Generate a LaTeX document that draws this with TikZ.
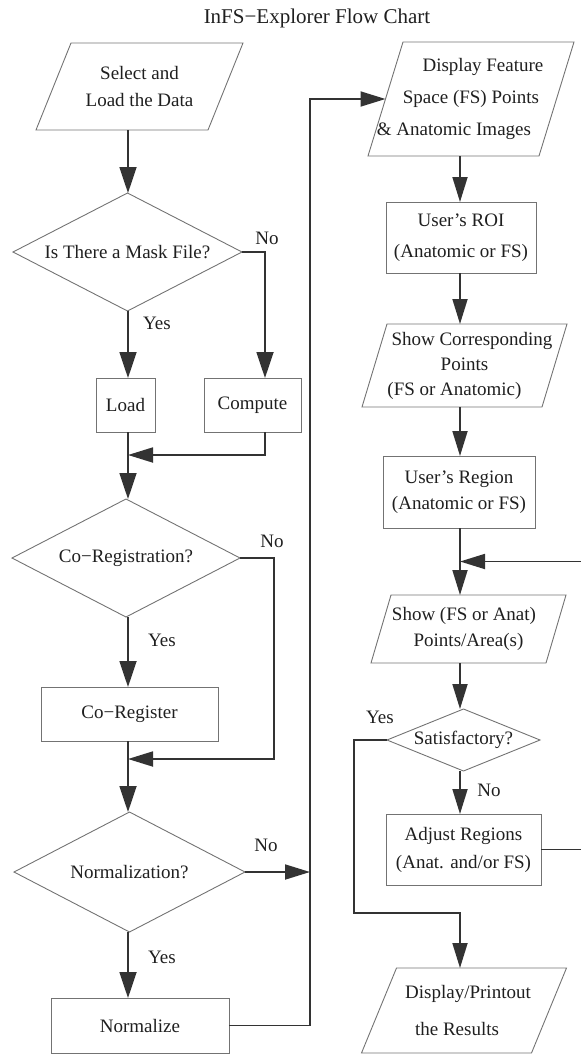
\documentclass[tikz,border=0pt]{standalone}
\usepackage{fontspec}
\setmainfont{Liberation Serif}
\usetikzlibrary{arrows.meta,shapes.geometric,calc}
\begin{document}
\begin{tikzpicture}[x=1pt,y=-1pt,
  every node/.style={font=\fontsize{19}{27}\selectfont, text=black!88, outer sep=0pt},
  box/.style={draw=black!55, line width=0.9pt, rectangle, inner sep=0pt, align=center},
  para/.style={rectangle, inner sep=0pt, align=center},
  dia/.style={draw=black!55, line width=0.9pt, diamond, inner sep=0pt},
  lbl/.style={inner sep=0pt},
  shapeline/.style={draw=black!55, line width=0.9pt, line join=miter},
  conn/.style={draw=black!80, line width=1.8pt},
  arr/.style={conn, -{Triangle[length=25pt,width=15pt]}},
  bigarr/.style={conn, -{Triangle[length=26pt,width=17pt]}}
]
\useasboundingbox (0,0) rectangle (581,1055);
\clip (0,0) rectangle (581,1055);
\coordinate (lc) at (128,0);
\coordinate (rc) at (460,0);

% title
\node[lbl, font=\fontsize{21}{25}\selectfont] (title) at (317,18) {InFS−Explorer Flow Chart};

% left column
\node[para, minimum width=172pt, minimum height=87pt] (sel) at (139.5,86.5) {Select and\\Load the Data};
\node[dia, aspect=1.94, minimum width=229pt, minimum height=118pt] (mask) at (127.5,252) {Is There a Mask File?};
\node[box, minimum width=59pt, minimum height=54pt] (load) at (125.5,405) {Load};
\node[box, minimum width=97pt, minimum height=54pt] (comp) at (252.5,405) {Compute};
\node[dia, aspect=1.93, minimum width=228pt, minimum height=118pt] (coreg) at (126,558) {Co−Registration?};
\node[box, minimum width=177pt, minimum height=54pt] (coregbox) at (129.5,714) {Co−Register};
\node[dia, aspect=1.93, minimum width=231pt, minimum height=120pt] (norm) at (129.5,872) {Normalization?};
\node[box, minimum width=178pt, minimum height=55pt] (normbox) at (140,1025.5) {Normalize};

% right column
\node[para, minimum width=171pt, minimum height=114pt, font=\fontsize{19}{32}\selectfont] (disp) at (471,99)
  {\makebox[0pt]{\hspace{24pt}Display Feature}\\Space (FS) Points\\\makebox[0pt]{\& Anatomic Images\hspace{34pt}}};
\node[box, minimum width=150pt, minimum height=71pt, font=\fontsize{19}{31}\selectfont] (roi) at (461,237.5) {User’s ROI\\(Anatomic or FS)};
\node[para, minimum width=180pt, minimum height=83pt, font=\fontsize{19}{25}\selectfont] (showc) at (464.5,365.5)
  {\makebox[0pt]{\hspace{15pt}Show Corresponding}\\Points\\\makebox[0pt]{(FS or Anatomic)\hspace{20pt}}};
\node[box, minimum width=152pt, minimum height=72pt, font=\fontsize{19}{26}\selectfont] (region) at (459,492) {User’s Region\\(Anatomic or FS)};
\node[para, minimum width=175pt, minimum height=68pt, font=\fontsize{19}{26}\selectfont] (showfs) at (468.5,629)
  {\makebox[0pt]{Show (FS or Anat)\hspace{9pt}}\\Points/Area(s)};
\node[dia, aspect=2.47, minimum width=153pt, minimum height=62pt] (sat) at (463.5,740) {Satisfactory?};
\node[box, minimum width=155pt, minimum height=71pt, font=\fontsize{19}{28}\selectfont] (adjust) at (463.5,849.5) {Adjust Regions\\(Anat. and/or FS)};
\node[para, minimum width=170pt, minimum height=85pt, font=\fontsize{19}{37}\selectfont] (final) at (464,1010.5)
  {\makebox[0pt]{\hspace{8pt}Display/Printout}\\\makebox[0pt]{the Results\hspace{14pt}}};

% parallelogram outlines
\foreach \n/\s in {sel/17.5, disp/17.5, showc/12.5, showfs/10, final/17.5}
  \draw[shapeline] ([xshift=\s pt]\n.north west) -- ([xshift=\s pt]\n.north east)
     -- ([xshift=-\s pt]\n.south east) -- ([xshift=-\s pt]\n.south west) -- cycle;

% labels
\node[lbl] (no1) at (267,238) {No};
\node[lbl] (yes1) at (157,323) {Yes};
\node[lbl] (no2) at (272,541) {No};
\node[lbl] (yes2) at (162,640) {Yes};
\node[lbl] (no3) at (266,845) {No};
\node[lbl] (yes3) at (162,957) {Yes};
\node[lbl] (yes4) at (380,717) {Yes};
\node[lbl] (no4) at (489,790) {No};

% helper coordinates
\coordinate (j1) at ($(comp.south)+(12.5,23)$);
\coordinate (j2) at ($(coregbox.south)+(144.5,18)$);
\coordinate (j3) at ($(normbox.east)+(81,0)$);
\coordinate (j5) at ($(adjust.south)+(-109.5,28)$);
\coordinate (j6) at ($(adjust.east)+(50,0)$);
\path (region.south -| rc) -- coordinate[pos=0.5] (j7) (showfs.north -| rc);

% left connectors
\draw[bigarr] (sel.south -| lc) -- (mask.north -| lc);
\draw[bigarr] (mask.east) -| ([xshift=12.5pt]comp.north);
\draw[bigarr] (mask.south -| lc) -- (load.north -| lc);
\draw[bigarr] (load.south -| lc) -- (coreg.north -| lc);
\draw[arr] ([xshift=12.5pt]comp.south) |- (j1 -| lc);
\draw[arr] (coreg.east) -- (coreg.east -| j2) -- (j2) -- (j2 -| lc);
\draw[bigarr] (coreg.south -| lc) -- (coregbox.north -| lc);
\draw[bigarr] (coregbox.south -| lc) -- (norm.north -| lc);
\draw[arr] (norm.east) -- (norm.east -| j3);
\draw[bigarr] (norm.south -| lc) -- (normbox.north -| lc);
\draw[arr] (normbox.east) -- (j3) |- (disp.west);

% right connectors
\draw[arr] (disp.south -| rc) -- (roi.north -| rc);
\draw[arr] (roi.south -| rc) -- (showc.north -| rc);
\draw[arr] (showc.south -| rc) -- (region.north -| rc);
\draw[arr] (region.south -| rc) -- (showfs.north -| rc);
\draw[arr] (showfs.south -| rc) -- (sat.north -| rc);
\draw[arr] (sat.south -| rc) -- (adjust.north -| rc);
\draw[arr] (sat.west) -| (j5) -- (j5 -| rc) -- (final.north -| rc);
\draw[arr] (adjust.east) -- (j6) |- (j7);
\end{tikzpicture}
\end{document}
